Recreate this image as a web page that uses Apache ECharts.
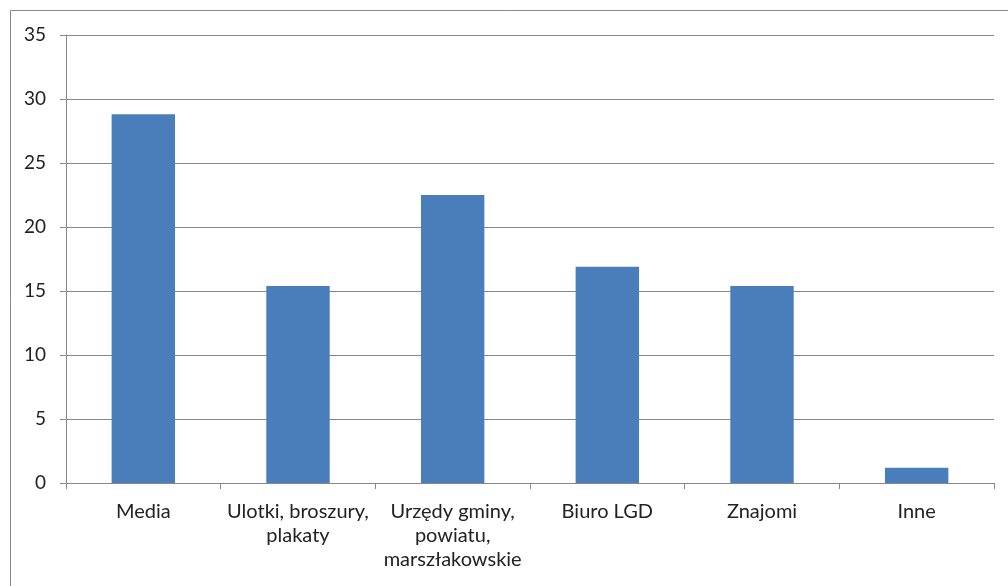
<!DOCTYPE html>
<html>
<head>
<meta charset="utf-8">
<script src="https://cdn.jsdelivr.net/npm/echarts@6/dist/echarts.min.js"></script>
<style>
html, body { margin: 0; padding: 0; background: #fff; }
#chart { width: 1008px; height: 586px; }
</style>
</head>
<body>
<div id="chart"></div>
<script>
// kategorie i wartości
var categories = ['Media', 'Ulotki, broszury,\nplakaty', 'Urzędy gminy,\npowiatu,\nmarszłakowskie', 'Biuro LGD', 'Znajomi', 'Inne'];
var values = [28.8, 15.4, 22.5, 16.9, 15.4, 1.2];
var yMin = 0, yMax = 35, yStep = 5;

var chart = echarts.init(document.getElementById('chart'));
var option = {
    animation: false,
    // ramka wokół wykresu
    graphic: [{
        type: 'rect',
        shape: { x: 10.5, y: 10.5, width: 1010, height: 600 },
        style: { fill: 'none', stroke: '#888', lineWidth: 1 }
    }],
    grid: {
        left: 66,
        right: 14,
        top: 35,
        bottom: 103
    },
    xAxis: {
        type: 'category',
        data: categories,
        axisLine: { lineStyle: { color: '#888', width: 1 } },
        axisTick: { show: true, length: 6, lineStyle: { color: '#888' } },
        axisLabel: {
            color: '#222',
            fontFamily: 'Lato',
            fontSize: 20,
            lineHeight: 24,
            margin: 17,
            interval: 0
        }
    },
    yAxis: {
        type: 'value',
        min: yMin,
        max: yMax,
        interval: yStep,
        axisLine: { show: true, lineStyle: { color: '#888', width: 1 } },
        axisTick: { show: true, length: 6, lineStyle: { color: '#888' } },
        splitLine: { lineStyle: { color: '#888', width: 1 } },
        axisLabel: {
            color: '#222',
            fontFamily: 'Lato',
            fontSize: 19,
            margin: 20
        }
    },
    series: [{
        type: 'bar',
        data: values,
        barWidth: '41%',
        itemStyle: { color: '#4a7ebb' }
    }]
};
chart.setOption(option);
</script>
</body>
</html>
